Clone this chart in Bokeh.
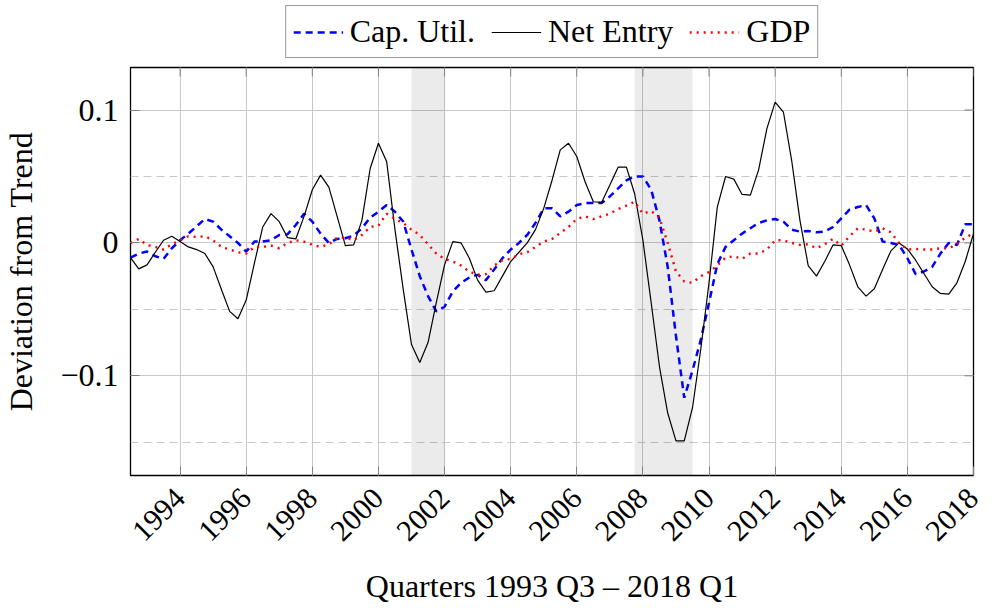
import numpy as np
from bokeh.plotting import figure
from bokeh.layouts import column
from bokeh.models import (Range1d, FixedTicker, BoxAnnotation, CustomJSTickFormatter)
from bokeh.embed import file_html
from bokeh.resources import INLINE
from math import pi

# ---------------- data ----------------
start_year = 1992.5  # first quarter position on the axis
net_entry = [-0.011, -0.0195, -0.0165, -0.007, 0.002, 0.005, 0.001, -0.003, -0.005, -0.008,
             -0.018, -0.035, -0.0515, -0.057, -0.043, -0.015, 0.012, 0.022, 0.016, 0.004,
             0.003, 0.020, 0.040, 0.051, 0.042, 0.020, -0.002, -0.0015, 0.017, 0.056,
             0.075, 0.061, 0.010, -0.035, -0.0765, -0.090, -0.075, -0.045, -0.0165, 0.001,
             0.000, -0.0115, -0.028, -0.037, -0.036, -0.025, -0.014, -0.007, 0.000, 0.010,
             0.026, 0.047, 0.070, 0.075, 0.065, 0.046, 0.031, 0.0305, 0.0435, 0.057,
             0.057, 0.037, 0.002, -0.045, -0.093, -0.128, -0.149, -0.149, -0.124, -0.080,
             -0.030, 0.027, 0.050, 0.048, 0.0365, 0.036, 0.055, 0.086, 0.106, 0.0985,
             0.062, 0.017, -0.017, -0.025, -0.014, -0.0015, -0.002, -0.0165, -0.033, -0.040,
             -0.0345, -0.020, -0.006, 0.000, -0.0045, -0.013, -0.023, -0.033, -0.038, -0.0385,
             -0.030, -0.014, 0.007]
cap_util = [-0.011, -0.008, -0.0065, -0.010, -0.012, -0.004, 0.002, 0.007, 0.0125, 0.018,
            0.016, 0.010, 0.005, 0.000, -0.0065, 0.001, 0.001, 0.002, 0.006, 0.0065,
            0.0135, 0.022, 0.016, 0.007, 0.000, 0.003, 0.0035, 0.0055, 0.011, 0.019,
            0.0235, 0.0285, 0.0235, 0.016, -0.005, -0.025, -0.040, -0.0515, -0.048, -0.0365,
            -0.030, -0.026, -0.024, -0.028, -0.020, -0.0115, -0.005, 0.000, 0.006, 0.015,
            0.026, 0.026, 0.020, 0.0235, 0.0285, 0.030, 0.030, 0.030, 0.035, 0.041,
            0.047, 0.050, 0.050, 0.040, 0.017, -0.018, -0.070, -0.1165, -0.096, -0.073,
            -0.045, -0.016, -0.003, 0.002, 0.007, 0.011, 0.015, 0.017, 0.018, 0.016,
            0.010, 0.0085, 0.009, 0.008, 0.0085, 0.012, 0.0185, 0.025, 0.027, 0.0285,
            0.0185, 0.001, 0.000, -0.0015, -0.0115, -0.0235, -0.0215, -0.018, -0.008, 0.000,
            -0.0015, 0.014, 0.014]
gdp = [0.000, 0.003, -0.0015, -0.003, -0.005, -0.001, 0.002, 0.005, 0.0045, 0.005,
       0.002, -0.003, -0.005, -0.007, -0.008, -0.003, -0.003, -0.002, -0.004, 0.000,
       0.002, 0.001, -0.0015, -0.003, -0.001, 0.004, 0.004, 0.002, 0.006, 0.012,
       0.013, 0.022, 0.018, 0.015, 0.010, 0.006, -0.001, -0.008, -0.012, -0.014,
       -0.017, -0.0215, -0.024, -0.0235, -0.017, -0.013, -0.012, -0.0085, -0.007, -0.003,
       0.001, 0.003, 0.0075, 0.012, 0.018, 0.020, 0.018, 0.020, 0.022, 0.0255,
       0.028, 0.031, 0.022, 0.024, 0.019, 0.000, -0.0215, -0.029, -0.030, -0.025,
       -0.022, -0.017, -0.011, -0.010, -0.012, -0.008, -0.008, -0.005, 0.002, 0.002,
       0.000, -0.0015, -0.001, -0.004, -0.001, 0.003, -0.002, 0.005, 0.011, 0.010,
       0.0085, 0.011, 0.008, 0.000, -0.005, -0.0045, -0.005, -0.005, -0.004, -0.004,
       -0.001, 0.004, 0.007]
quarters = start_year + 0.25 * np.arange(len(net_entry))

recessions = [(2001.0, 2002.0), (2007.75, 2009.5)]
x_ticks = list(range(1994, 2019, 2))
y_ticks = [-0.1, 0.0, 0.1]
y_minor_ticks = [-0.15, -0.05, 0.05]
series_labels = ["Cap. Util.", "Net Entry", "GDP"]
series_colors = ["#0000ff", "black", "#ff0000"]
series_widths = [2.5, 1.2, 2.4]
series_dashes = ["7 5", "solid", "2 5"]
x_label = "Quarters 1993 Q3 \u2013 2018 Q1"
y_label = "Deviation from Trend"

x_lo, x_hi = 1992.5, 2018.0
y_lo, y_hi = -0.175, 0.132

FONT = "Liberation Serif"
FS = "32px"
TICK_GRAY = "#808080"
W = 1002
LEG_H = 65
MAIN_H = 607 - LEG_H

# ---------------- main figure ----------------
p = figure(width=W, height=MAIN_H, output_backend="svg", toolbar_location=None,
           x_range=Range1d(x_lo, x_hi), y_range=Range1d(y_lo, y_hi),
           min_border_left=130, min_border_top=2, min_border_right=29,
           min_border_bottom=131)
p.background_fill_color = "white"
p.border_fill_color = "white"
p.outline_line_color = "black"
p.outline_line_width = 1.3

for (a, b) in recessions:
    p.add_layout(BoxAnnotation(left=a, right=b, fill_color="black", fill_alpha=0.08,
                               line_color=None, level="underlay"))

# grids
p.xgrid.ticker = FixedTicker(ticks=x_ticks)
p.ygrid.ticker = FixedTicker(ticks=y_ticks, minor_ticks=y_minor_ticks)
for g in (p.xgrid[0], p.ygrid[0]):
    g.grid_line_color = "#c8c8c8"
    g.grid_line_width = 1
p.ygrid.minor_grid_line_color = "#c8c8c8"
p.ygrid.minor_grid_line_dash = "8 5"
p.ygrid.minor_grid_line_width = 1

# axes
xa = p.xaxis[0]
ya = p.yaxis[0]
xa.ticker = FixedTicker(ticks=x_ticks)
ya.ticker = FixedTicker(ticks=y_ticks)
ya.formatter = CustomJSTickFormatter(code="""
    if (Math.abs(tick) < 1e-9) return '0';
    return (tick < 0 ? '\\u2212' : '') + Math.abs(tick).toFixed(1);
""")
xa.major_label_orientation = pi / 4
for ax in (xa, ya):
    ax.axis_line_color = None
    ax.major_tick_in = 9
    ax.major_tick_out = 0
    ax.major_tick_line_color = TICK_GRAY
    ax.minor_tick_line_color = None
    ax.major_label_text_font = FONT
    ax.major_label_text_font_size = FS
    ax.major_label_text_color = "black"
    ax.axis_label_text_font = FONT
    ax.axis_label_text_font_size = FS
    ax.axis_label_text_font_style = "normal"
    ax.axis_label_text_color = "black"
xa.major_label_text_font_size = "30px"
xa.axis_label = x_label
ya.axis_label = y_label
xa.major_label_standoff = 18
xa.axis_label_standoff = 16
ya.major_label_standoff = 12
ya.axis_label_standoff = 18

# mirrored inward ticks on top and right edges (half of each dash is clipped by the frame)
p.scatter(x=x_ticks, y=[y_hi] * len(x_ticks), marker="dash", angle=pi / 2, size=18,
          line_color=TICK_GRAY, line_width=1)
p.scatter(x=[x_hi] * len(y_ticks), y=y_ticks, marker="dash", size=18,
          line_color=TICK_GRAY, line_width=1)

# lines
series = [cap_util, net_entry, gdp]
for vals, col, lw, dash in zip(series, series_colors, series_widths, series_dashes):
    p.line(quarters, vals, line_color=col, line_width=lw, line_dash=dash)

# ---------------- legend strip ----------------
# the same series are drawn again here, but the strip's y range lies far above them,
# so only their legend entries are visible.
lf = figure(width=W, height=LEG_H, output_backend="svg", toolbar_location=None,
            x_range=Range1d(x_lo, x_hi), y_range=Range1d(10, 11),
            x_axis_type=None, y_axis_type=None,
            min_border_left=130, min_border_right=29, min_border_top=0,
            min_border_bottom=0)
lf.outline_line_color = None
lf.xgrid.visible = False
lf.ygrid.visible = False
for vals, lab, col, lw, dash in zip(series, series_labels, series_colors,
                                    series_widths, series_dashes):
    lf.line(quarters, vals, line_color=col, line_width=lw, line_dash=dash, legend_label=lab)

lg = lf.legend[0]
lg.orientation = "horizontal"
lg.location = "top_center"
lg.label_text_font = FONT
lg.label_text_font_size = FS
lg.label_text_color = "black"
lg.glyph_width = 50
lg.glyph_height = 20
lg.label_standoff = 7
lg.spacing = 16
lg.padding = 7
lg.margin = 5
lg.border_line_color = "#333333"
lg.border_line_width = 1.5
lg.background_fill_alpha = 1.0

layout = column(lf, p, spacing=0)
open("out.html", "w").write(file_html(layout, INLINE))
